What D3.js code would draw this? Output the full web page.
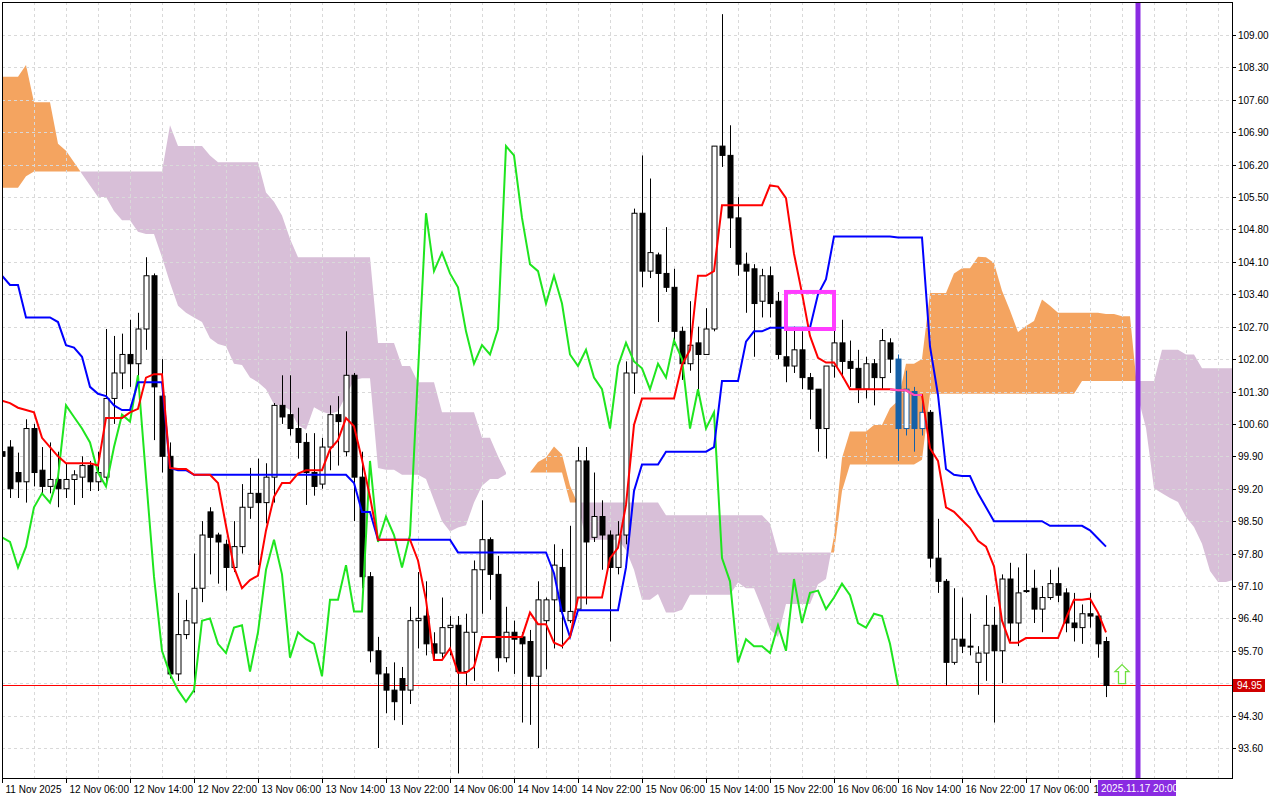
<!DOCTYPE html>
<html>
<head>
<meta charset="utf-8">
<script src="https://cdn.jsdelivr.net/npm/d3@7"></script>
<style>
  body { margin: 0; background: #fff; }
  svg { display: block; font-family: "Liberation Sans", "DejaVu Sans", sans-serif; }
</style>
</head>
<body>
<svg id="chart" width="1280" height="800"></svg>
<script>
// H1 candles, bar 0 = 11 Nov 22:00
const opens = [100.0,100.1,99.55,99.35,100.5,99.6,99.25,99.4,99.2,99.4,99.45,99.7,99.35,99.45,101.15,101.7,102.1,101.9,102.65,103.8,
  101.2,99.9,95.2,96.05,96.3,97.05,98.7,98.2,98.0,97.5,97.95,98.8,99.1,98.9,99.45,101.0,100.8,100.5,100.2,99.55,
  99.3,100.1,100.8,100.0,101.65,99.45,97.3,95.7,95.2,94.85,95.1,94.85,96.35,96.45,95.85,95.65,96.2,96.25,95.25,96.1,
  97.45,98.1,97.35,95.55,96.1,96.0,95.9,95.15,96.35,96.8,97.5,96.35,96.6,99.8,98.15,98.6,98.2,97.5,98.2,101.7,
  105.15,103.9,104.25,103.85,103.55,102.6,101.9,102.35,102.1,102.65,106.6,106.4,105.05,104.05,103.95,103.25,103.8,103.25,102.05,101.85,
  102.2,101.6,101.35,100.5,101.85,102.35,101.95,101.8,101.35,101.9,101.6,102.35,102.0,100.5,101.3,100.5,100.85,97.7,97.2,95.45,
  95.95,95.8,95.45,95.65,96.25,95.7,97.25,96.3,97.0,97.05,96.6,96.85,97.15,96.95,96.3,96.2,96.5,96.45,95.9];
const highs = [100.2,100.25,99.98,100.7,100.6,100.1,100.2,100.0,99.75,99.6,99.9,99.8,100.0,102.65,102.5,102.55,102.85,103.0,104.2,103.85,
  102.0,100.2,96.95,96.8,97.8,98.5,98.8,98.25,98.1,98.5,99.3,99.65,99.85,99.75,101.05,101.65,101.65,100.95,100.4,100.4,
  100.3,101.0,101.2,102.6,101.7,100.0,97.4,96.0,95.35,95.45,95.35,96.65,97.4,97.2,96.1,96.85,96.45,96.45,96.5,97.65,
  98.95,98.15,97.75,96.65,96.35,96.1,96.15,97.2,96.85,98.0,97.9,98.4,100.1,100.1,99.55,98.95,98.3,98.5,101.95,105.25,
  106.4,105.9,104.3,104.85,103.95,102.7,103.25,102.7,103.1,106.6,109.45,107.05,105.5,104.3,104.05,103.95,104.0,103.45,102.65,102.7,
  102.6,101.7,101.35,101.85,102.7,102.85,102.4,102.2,102.05,102.0,102.65,102.45,102.1,101.75,101.4,101.15,100.9,98.55,97.25,97.05,
  96.85,96.5,95.8,96.9,96.65,97.35,97.6,97.5,97.8,97.45,97.1,97.45,97.5,97.05,96.95,96.7,96.95,96.5,96.0];
const lows = [99.6,99.0,99.0,98.9,99.25,99.1,99.1,98.8,99.0,98.85,99.0,99.15,99.15,99.35,100.6,101.35,101.4,101.45,102.2,100.25,
  99.55,95.1,95.05,95.95,94.8,96.75,97.35,97.15,97.0,97.4,97.8,98.55,97.55,98.45,98.9,100.6,100.35,99.85,98.85,99.05,
  99.2,99.6,99.7,99.9,98.5,97.05,95.45,93.6,94.35,94.2,94.1,94.55,95.75,95.6,95.5,95.55,95.6,93.05,94.95,95.05,
  96.5,96.8,95.25,95.45,95.2,94.15,94.1,93.6,95.3,95.75,95.75,96.3,96.6,96.7,98.05,97.45,95.9,97.35,98.0,101.25,
  103.55,103.75,102.8,103.45,102.3,101.55,101.75,101.2,102.1,102.6,106.15,104.4,103.8,103.0,102.05,102.9,102.9,102.0,101.5,101.7,
  101.35,100.7,100.0,99.85,101.6,101.6,101.4,101.05,101.15,101.0,101.35,101.7,99.8,100.35,100.0,100.35,97.5,96.95,94.95,95.4,
  95.65,95.6,94.75,95.05,94.15,95.0,95.9,95.8,96.95,96.3,96.1,96.8,96.75,96.1,95.9,95.85,96.2,95.55,94.7];
const closes = [99.9,99.2,99.35,100.5,99.55,99.25,99.4,99.2,99.4,99.5,99.7,99.35,99.55,101.15,101.7,102.1,101.9,102.65,103.8,101.4,
  99.9,95.2,96.05,96.35,97.05,98.2,98.15,98.05,97.5,97.95,98.8,99.1,98.9,99.45,101.0,100.75,100.5,100.2,99.55,99.25,
  100.1,100.8,100.65,101.65,99.45,97.3,95.7,95.2,94.85,94.6,94.85,96.35,96.4,95.85,95.65,96.2,96.25,95.25,96.1,97.45,
  98.1,97.35,95.55,96.1,95.95,95.85,95.15,96.8,96.8,97.55,96.55,96.55,99.8,98.05,98.6,98.2,97.5,98.2,101.7,105.15,
  103.9,104.3,103.85,103.55,102.6,101.9,102.3,102.1,102.65,106.6,106.4,105.05,104.05,103.9,103.2,103.8,103.2,102.1,101.85,102.2,
  101.6,101.35,100.5,101.85,102.35,101.95,101.8,101.35,101.9,101.6,102.4,102.0,100.5,101.35,100.5,100.85,97.7,97.2,95.45,95.95,
  95.8,95.8,95.65,96.25,95.7,97.25,96.3,96.95,97.0,96.6,96.85,97.15,96.9,96.3,96.2,96.5,96.45,95.85,94.95];

// indicator values before full history is on screen
const tenkanEarly = [101.1,101.05,100.95,100.9,100.85,100.3,100.1,99.9];
const kijunEarly = [103.8,103.6,103.6,102.9,102.9,102.9,102.9,102.8,102.3,102.25,102.05,101.4,101.25,101.2,101.0,100.9,100.9,101.5,101.5,101.5,101.5,99.65,99.6,99.6,99.5];
const spanAEarly = [108.1,108.1,108.1,108.35,107.55,107.55,107.55,106.65,106.5,106.25,106.0,105.75,105.5,105.5,105.2,105.0,105.0,104.75,104.7,104.7,104.2,103.65,103.15,103.0,102.9,102.8];
const spanBEarly = [105.7,105.7,105.7,105.95,
  106.05,106.05,106.05,106.05,106.05,106.05,106.05,106.05,106.05,106.05,106.05,106.05,106.05,106.05,106.05,106.05,106.05,
  107.05,106.6,106.6,106.6,106.6,106.4,106.25,106.25,106.25,106.25,106.25,106.25,105.6,105.4,105.1,104.6,
  104.2,104.2,104.2,104.2,104.2,104.2,104.2,104.2,104.2,104.2,102.35,102.35,102.35,101.85,101.85,101.5,101.5,101.5,
  100.85,100.85,100.85,100.85,100.85,100.3,100.3,99.9,99.55,99.55,99.55,99.55,99.55,99.55,99.55,99.55,
  98.9,98.9,98.9,98.9,98.9,98.9];

const highlightBars = [112, 113, 114, 115];
const yTicks = [109.0,108.3,107.6,106.9,106.2,105.5,104.8,104.1,103.4,102.7,102.0,101.3,100.6,99.9,99.2,98.5,97.8,97.1,96.4,95.7,95.0,94.3,93.6];
const xLabels = ["11 Nov 2025","12 Nov 06:00","12 Nov 14:00","12 Nov 22:00","13 Nov 06:00","13 Nov 14:00","13 Nov 22:00","14 Nov 06:00","14 Nov 14:00","14 Nov 22:00","15 Nov 06:00","15 Nov 14:00","15 Nov 22:00","16 Nov 06:00","16 Nov 14:00","16 Nov 22:00","17 Nov 06:00","17 Nov 14:00"];
const bidPrice = 94.95;
const markerBar = 142, markerLabel = "2025.11.17 20:00";
const box = { from: 98, to: 104, top: 103.45, bottom: 102.65 };
const arrow = { bar: 140, price: 95.4 };

const plot = { left: 2, top: 2, right: 1232, bottom: 778 };
const svg = d3.select("#chart");

const x = d3.scaleLinear().domain([0, 1]).range([2, 10]);
const y = d3.scaleLinear().domain([93.6, 109.0]).range([748, 35]);

const n = closes.length;
function midRange(i, len) {
  const s = i - len + 1;
  return (d3.max(highs.slice(s, i + 1)) + d3.min(lows.slice(s, i + 1))) / 2;
}
const tenkan = closes.map((c, i) => i < 8 ? tenkanEarly[i] : midRange(i, 9));
const kijun = closes.map((c, i) => i < 25 ? kijunEarly[i] : midRange(i, 26));
const spanA = [], spanB = [];
for (let p = 0; p < n + 26; p++) {
  spanA.push(p < 26 ? spanAEarly[p] : (tenkan[p - 26] + kijun[p - 26]) / 2);
  spanB.push(p < 77 ? spanBEarly[p] : midRange(p - 26, 52));
}
const chikou = closes.slice(26);

const defs = svg.append("defs");
defs.append("clipPath").attr("id", "clip").append("rect")
  .attr("x", plot.left).attr("y", plot.top)
  .attr("width", plot.right - plot.left).attr("height", plot.bottom - plot.top);
defs.append("clipPath").attr("id", "clipLabel").append("rect")
  .attr("x", 0).attr("y", plot.bottom).attr("width", x(markerBar) - 40).attr("height", 22);

const cloudG = svg.append("g").attr("clip-path", "url(#clip)");

// cloud: split into runs at crossings
const pts = [];
for (let p = 0; p < spanA.length; p++) {
  pts.push({ p, a: spanA[p], b: spanB[p] });
  if (p + 1 < spanA.length) {
    const d0 = spanA[p] - spanB[p], d1 = spanA[p + 1] - spanB[p + 1];
    if (d0 * d1 < 0) {
      const t = d0 / (d0 - d1);
      const v = spanA[p] + t * (spanA[p + 1] - spanA[p]);
      pts.push({ p: p + t, a: v, b: v, cross: true });
    }
  }
}
const runs = [];
let cur = null;
pts.forEach(d => {
  const up = d.a >= d.b;
  if (d.cross) {
    if (cur) { cur.pts.push(d); }
    cur = { up: null, pts: [d] };
    runs.push(cur);
    return;
  }
  if (!cur || (cur.up !== null && cur.up !== up)) { cur = { up, pts: [] }; runs.push(cur); }
  if (cur.up === null) cur.up = up;
  cur.pts.push(d);
});
const cloudArea = d3.area().x(d => x(d.p)).y0(d => y(d.a)).y1(d => y(d.b));
runs.forEach(r => {
  cloudG.append("path").attr("d", cloudArea(r.pts))
    .attr("fill", r.up ? "#f4a460" : "#d8bfd8");
});

// grid
const grid = svg.append("g").attr("stroke", "#d9d9d9").attr("stroke-dasharray", "3,3").attr("stroke-width", 1);
d3.range(4, 154, 4).forEach(i => {
  grid.append("line").attr("x1", Math.round(x(i)) + 0.5).attr("x2", Math.round(x(i)) + 0.5)
    .attr("y1", plot.top).attr("y2", plot.bottom);
});
yTicks.forEach(t => {
  grid.append("line").attr("x1", plot.left).attr("x2", plot.right)
    .attr("y1", Math.round(y(t)) + 0.5).attr("y2", Math.round(y(t)) + 0.5);
});

const g = svg.append("g").attr("clip-path", "url(#clip)");

// bid line
g.append("line").attr("x1", plot.left).attr("x2", plot.right)
  .attr("y1", Math.round(y(bidPrice)) + 0.5).attr("y2", Math.round(y(bidPrice)) + 0.5)
  .attr("stroke", "#ff0000").attr("stroke-width", 1);

// candles
const candles = g.append("g");
closes.forEach((c, i) => {
  const o = opens[i], cx = Math.round(x(i)) + 0.5;
  const hl = highlightBars.includes(i);
  const col = hl ? "#1560a8" : "#000";
  candles.append("line").attr("x1", cx).attr("x2", cx)
    .attr("y1", y(highs[i])).attr("y2", y(lows[i])).attr("stroke", col).attr("stroke-width", 1);
  const top = y(Math.max(o, c)), bot = y(Math.min(o, c));
  candles.append("rect").attr("x", cx - 2.5).attr("width", 5)
    .attr("y", top).attr("height", Math.max(1, bot - top))
    .attr("fill", c >= o ? "#fff" : col).attr("stroke", col).attr("stroke-width", 1);
});

// lines
const line = d3.line().x((d, i) => x(i)).y(d => y(d));
g.append("path").attr("d", line(chikou)).attr("fill", "none").attr("stroke", "#1fe51f").attr("stroke-width", 2);
g.append("path").attr("d", line(kijun)).attr("fill", "none").attr("stroke", "#0000ff").attr("stroke-width", 2);
g.append("path").attr("d", line(tenkan)).attr("fill", "none").attr("stroke", "#ff0000").attr("stroke-width", 2);
const pinkLine = d3.line().x(d => x(d)).y(d => y(tenkan[d]));
g.append("path").attr("d", pinkLine(d3.range(111, 116))).attr("fill", "none").attr("stroke", "#ff4fc0").attr("stroke-width", 2);

// annotation box
g.append("rect").attr("x", x(box.from)).attr("y", y(box.top))
  .attr("width", x(box.to) - x(box.from)).attr("height", y(box.bottom) - y(box.top))
  .attr("fill", "none").attr("stroke", "#ff3cff").attr("stroke-width", 4);

// arrow
const ax = x(arrow.bar), ay = y(arrow.price);
g.append("path")
  .attr("d", `M${ax},${ay} L${ax + 7},${ay + 7} L${ax + 3.5},${ay + 7} L${ax + 3.5},${ay + 19} L${ax - 3.5},${ay + 19} L${ax - 3.5},${ay + 7} L${ax - 7},${ay + 7} Z`)
  .attr("fill", "#fff").attr("stroke", "#70e040").attr("stroke-width", 1.3);

// vertical marker
svg.append("line").attr("x1", x(markerBar)).attr("x2", x(markerBar))
  .attr("y1", plot.top).attr("y2", plot.bottom)
  .attr("stroke", "#8a2be2").attr("stroke-width", 5);

// frame
svg.append("rect").attr("x", plot.left + 0.5).attr("y", plot.top + 0.5)
  .attr("width", plot.right - plot.left).attr("height", plot.bottom - plot.top)
  .attr("fill", "none").attr("stroke", "#000").attr("stroke-width", 1);

// price axis
const yAxis = svg.append("g").attr("font-size", 10).attr("fill", "#000");
yTicks.forEach(t => {
  const yy = Math.round(y(t)) + 0.5;
  yAxis.append("line").attr("x1", plot.right).attr("x2", plot.right + 4).attr("y1", yy).attr("y2", yy).attr("stroke", "#000");
  yAxis.append("text").attr("x", plot.right + 6).attr("y", yy + 3.5).text(t.toFixed(2));
});
const by = Math.round(y(bidPrice));
svg.append("rect").attr("x", plot.right + 1).attr("y", by - 6).attr("width", 32).attr("height", 13).attr("fill", "#d00000");
svg.append("text").attr("x", plot.right + 5).attr("y", by + 4).attr("font-size", 10).attr("fill", "#fff").text(bidPrice.toFixed(2));

// time axis
const xAxis = svg.append("g").attr("font-size", 10).attr("fill", "#000").attr("clip-path", "url(#clipLabel)");
xLabels.forEach((lab, k) => {
  const xx = Math.round(x(k * 8)) + 0.5;
  xAxis.append("line").attr("x1", xx).attr("x2", xx).attr("y1", plot.bottom).attr("y2", plot.bottom + 5).attr("stroke", "#000");
  xAxis.append("text").attr("x", xx + 3).attr("y", plot.bottom + 15).text(lab);
});
const mx = x(markerBar);
svg.append("rect").attr("x", mx - 40).attr("y", plot.bottom + 2).attr("width", 78).attr("height", 16).attr("fill", "#8a2be2");
svg.append("text").attr("x", mx - 37).attr("y", plot.bottom + 14).attr("font-size", 10).attr("fill", "#fff").text(markerLabel);
</script>
</body>
</html>
